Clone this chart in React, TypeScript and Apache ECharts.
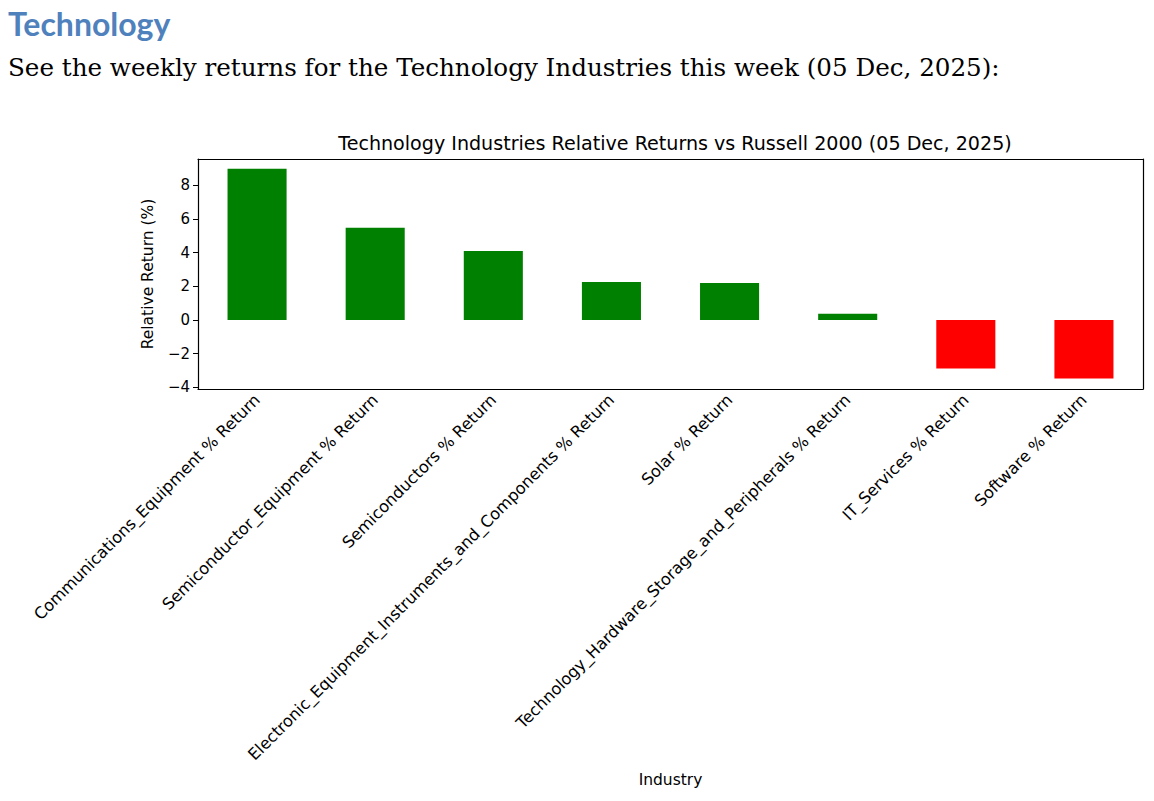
import React, { useEffect, useRef } from "react";
import * as echarts from "echarts";

const categories = [
  "Communications_Equipment % Return",
  "Semiconductor_Equipment % Return",
  "Semiconductors % Return",
  "Electronic_Equipment_Instruments_and_Components % Return",
  "Solar % Return",
  "Technology_Hardware_Storage_and_Peripherals % Return",
  "IT_Services % Return",
  "Software % Return",
];
const values = [8.99, 5.49, 4.1, 2.26, 2.2, 0.37, -2.88, -3.47];
const yTicks = [-4, -2, 0, 2, 4, 6, 8];

const heading = "Technology";
const intro = "See the weekly returns for the Technology Industries this week (05 Dec, 2025):";
const chartTitle = "Technology Industries Relative Returns vs Russell 2000 (05 Dec, 2025)";

export default function App() {
  const ref = useRef<HTMLDivElement>(null);
  useEffect(() => {
    if (!ref.current) return;
    const chart = echarts.init(ref.current, null, { renderer: "svg" });
    const font = "DejaVu Sans";
    chart.setOption({
      animation: false,
      backgroundColor: "#ffffff",
      textStyle: { fontFamily: font },
      title: {
        text: chartTitle,
        left: 670,
        textAlign: "center",
        top: 129,
        textStyle: { fontFamily: font, fontSize: 19.1, fontWeight: "normal", color: "#000" },
      },
      graphic: [
        {
          type: "text",
          left: 8,
          top: 7,
          style: {
            text: heading,
            font: "bold 32px Lato, 'Open Sans', sans-serif",
            fill: "#4f81bd",
          },
        },
        {
          type: "text",
          left: 8,
          top: 55,
          style: {
            text: intro,
            font: "24.6px 'DejaVu Serif', serif",
            fill: "#000",
          },
        },
      ],
      grid: { left: 198, right: 11, top: 159, bottom: 412, containLabel: false },
      xAxis: [
        {
          type: "category",
          data: categories,
          boundaryGap: true,
          name: "Industry",
          nameLocation: "middle",
          nameGap: 383,
          nameTextStyle: { fontFamily: font, fontSize: 15.5, color: "#000" },
          axisLine: { onZero: false, lineStyle: { color: "#000", width: 1.2 } },
          axisTick: { alignWithLabel: true, length: 5, lineStyle: { color: "#000" } },
          axisLabel: {
            rotate: 45,
            interval: 0,
            margin: 8,
            fontFamily: font,
            fontSize: 16.2,
            color: "#000",
          },
        },
        {
          type: "category",
          data: categories,
          position: "top",
          axisLine: { onZero: false, lineStyle: { color: "#000", width: 1.2 } },
          axisTick: { show: false },
          axisLabel: { show: false },
        },
      ],
      yAxis: [
        {
          type: "value",
          min: -4.1,
          max: 9.57,
          name: "Relative Return (%)",
          nameLocation: "middle",
          nameGap: 42,
          nameRotate: 90,
          nameTextStyle: { fontFamily: font, fontSize: 15.5, color: "#000" },
          splitLine: { show: false },
          axisLine: { show: true, lineStyle: { color: "#000", width: 1.2 } },
          axisTick: { show: true, length: 5, customValues: yTicks, lineStyle: { color: "#000" } },
          axisLabel: {
            customValues: yTicks,
            fontFamily: font,
            fontSize: 15,
            color: "#000",
            margin: 8,
            formatter: (v: number) => (v < 0 ? "\u2212" + Math.abs(v) : String(v)),
          },
        },
        {
          type: "value",
          min: -4.1,
          max: 9.57,
          position: "right",
          splitLine: { show: false },
          axisLine: { show: true, lineStyle: { color: "#000", width: 1.2 } },
          axisTick: { show: false },
          axisLabel: { show: false },
        },
      ],
      series: [
        {
          type: "bar",
          data: values.map((v) => ({
            value: v,
            itemStyle: { color: v >= 0 ? "#008000" : "#ff0000" },
          })),
          barWidth: "50%",
        },
      ],
    });
    return () => chart.dispose();
  }, []);
  return (
    <div
      ref={ref}
      style={{ position: "fixed", left: 0, top: 0, width: 1154, height: 801 }}
    />
  );
}
